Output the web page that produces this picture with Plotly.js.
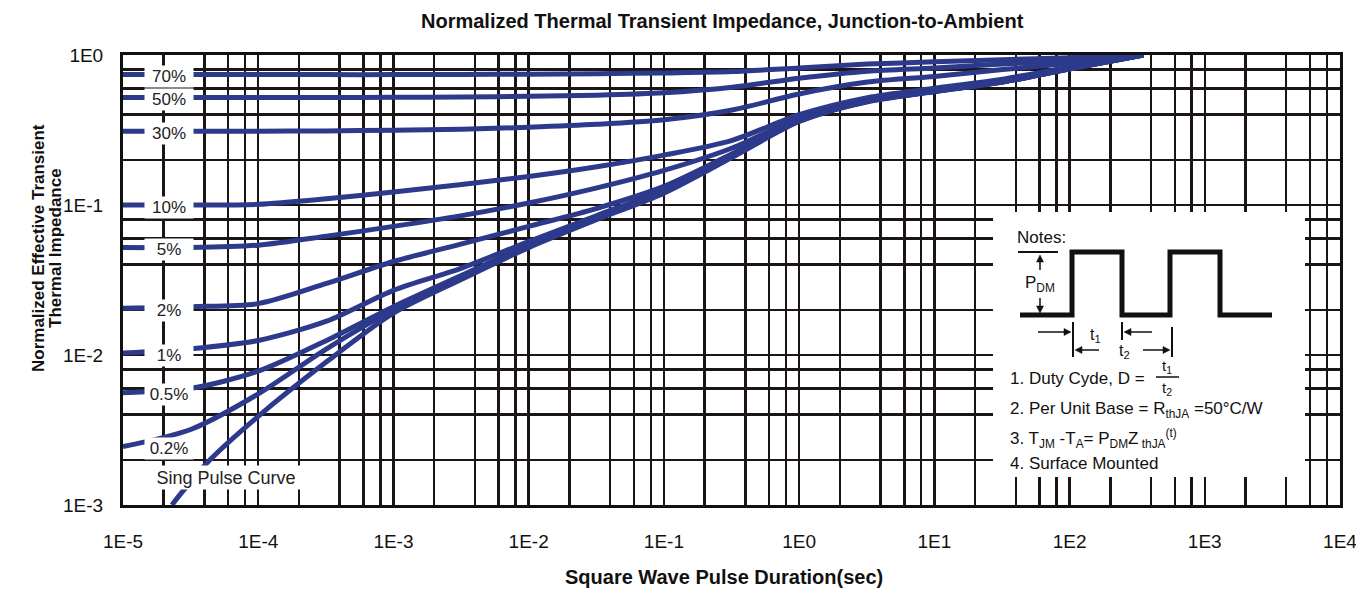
<!DOCTYPE html>
<html>
<head>
<meta charset="utf-8">
<script src="https://cdn.plot.ly/plotly-3.0.1.min.js"></script>
<style>html,body{margin:0;padding:0;background:#fff;}#chart{width:1356px;height:589px;}</style>
</head>
<body>
<div id="chart"></div>
<script>
// ---------------- data ----------------
const tStd = [1e-5, 3.2e-5, 1e-4, 3.2e-4, 1e-3, 3.2e-3, 1e-2, 3.2e-2, 0.1, 0.32, 1, 3.2, 10, 32, 100, 350];
const z70 = [0.74, 0.74, 0.74, 0.74, 0.74, 0.742, 0.745, 0.75, 0.76, 0.775, 0.82, 0.87, 0.90, 0.93, 0.96, 1.0];
const z50 = [0.52, 0.52, 0.52, 0.52, 0.522, 0.525, 0.53, 0.54, 0.56, 0.61, 0.70, 0.78, 0.82, 0.87, 0.92, 1.0];
const z30 = [0.31, 0.31, 0.31, 0.312, 0.315, 0.32, 0.33, 0.345, 0.37, 0.43, 0.55, 0.66, 0.72, 0.80, 0.88, 1.0];
const z10 = [0.100, 0.100, 0.101, 0.110, 0.122, 0.137, 0.155, 0.18, 0.215, 0.27, 0.40, 0.52, 0.60, 0.69, 0.83, 1.0];
const z5  = [0.052, 0.052, 0.054, 0.062, 0.072, 0.085, 0.103, 0.13, 0.17, 0.24, 0.38, 0.50, 0.58, 0.67, 0.815, 1.0];
const z2  = [0.0205, 0.021, 0.022, 0.030, 0.042, 0.055, 0.072, 0.095, 0.133, 0.22, 0.37, 0.495, 0.577, 0.665, 0.812, 1.0];
const z1  = [0.0103, 0.011, 0.0125, 0.0168, 0.027, 0.038, 0.057, 0.085, 0.127, 0.215, 0.366, 0.493, 0.574, 0.663, 0.81, 1.0];
const z05 = [0.0056, 0.006, 0.0078, 0.0125, 0.021, 0.034, 0.054, 0.082, 0.124, 0.212, 0.364, 0.491, 0.572, 0.662, 0.809, 1.0];
const z02 = [0.00245, 0.0032, 0.0055, 0.011, 0.020, 0.033, 0.053, 0.081, 0.122, 0.21, 0.362, 0.49, 0.571, 0.661, 0.808, 1.0];
const tSingle = [2.3e-5, 2.8e-5, 4.4e-5, 1e-4, 3.2e-4, 1e-3, 3.2e-3, 1e-2, 3.2e-2, 0.1, 0.32, 1, 3.2, 10, 32, 100, 350];
const zSingle = [0.001, 0.00125, 0.002, 0.0039, 0.009, 0.019, 0.032, 0.052, 0.08, 0.12, 0.208, 0.36, 0.488, 0.57, 0.66, 0.807, 1.0];

const curveLabels = ['70%', '50%', '30%', '10%', '5%', '2%', '1%', '0.5%', '0.2%'];
const curveValues = [z70, z50, z30, z10, z5, z2, z1, z05, z02];
const singleLabel = 'Sing Pulse Curve';

const xTickVals = [1e-5, 1e-4, 1e-3, 1e-2, 1e-1, 1e0, 1e1, 1e2, 1e3, 1e4];
const xTickText = ['1E-5', '1E-4', '1E-3', '1E-2', '1E-1', '1E0', '1E1', '1E2', '1E3', '1E4'];
const yTickVals = [1e-3, 1e-2, 1e-1, 1e0];
const yTickText = ['1E-3', '1E-2', '1E-1', '1E0'];

const titleText = 'Normalized Thermal Transient Impedance, Junction-to-Ambient';
const xTitle = 'Square Wave Pulse Duration(sec)';
const yTitle1 = 'Normalized Effective Transient';
const yTitle2 = 'Thermal Impedance';
const notes = [
  'Notes:',
  '1. Duty Cyde, D = ',
  '2. Per Unit Base = R<sub>thJA</sub> =50°C/W',
  '3. T<sub>JM</sub> -T<sub>A</sub>= P<sub>DM</sub>Z<sub> thJA</sub><sup>(t)</sup>',
  '4. Surface Mounted'
];

// ---------------- styling / layout helpers ----------------
const FONT = 'Liberation Sans, Arial, sans-serif';
const CURVE = '#2d3a8c';
const GRID = '#1b1515';
const INK = '#111111';
const L = 123, R = 1340, T = 55, B = 505;
const PX = x => (x - L) / (R - L);
const PY = y => (B - y) / (B - T);

const minorX = [];
for (let k = -5; k <= 3; k++) [2, 4, 6, 8].forEach(m => minorX.push(m * Math.pow(10, k)));
const minorY = [];
for (let k = -3; k <= -1; k++) [2, 4, 6, 8].forEach(m => minorY.push(m * Math.pow(10, k)));

const traces = curveValues.map((vals, i) => ({
  x: tStd, y: vals, type: 'scatter', mode: 'lines', name: curveLabels[i],
  line: {color: CURVE, width: 5, shape: 'spline', smoothing: 0.8}
}));
traces.push({
  x: tSingle, y: zSingle, type: 'scatter', mode: 'lines', name: singleLabel,
  line: {color: CURVE, width: 5, shape: 'spline', smoothing: 0.8}
});

// paper-anchored text helper
const txt = (x, y, text, size, opts) => Object.assign({
  xref: 'paper', yref: 'paper', x: PX(x), y: PY(y), text: text, showarrow: false,
  xanchor: 'center', yanchor: 'middle', font: {family: FONT, size: size, color: INK}
}, opts || {});

const annotations = [];
// curve labels (on the curves' starting level)
curveLabels.forEach((lab, i) => {
  annotations.push({
    xref: 'paper', yref: 'y', x: PX(169), y: Math.log10(curveValues[i][0]), yshift: -2,
    xanchor: 'center', yanchor: 'middle',
    text: lab, showarrow: false, bgcolor: '#ffffff', width: 46, height: 19,
    font: {family: FONT, size: 17, color: '#222'}
  });
});
annotations.push(txt(226, 477, singleLabel, 18, {bgcolor: '#ffffff', width: 154, height: 21, font: {family: FONT, size: 18, color: '#222'}}));
// titles
annotations.push(txt(722, 21, '<b>' + titleText + '</b>', 20));
annotations.push(txt(724, 577, '<b>' + xTitle + '</b>', 20));
annotations.push(txt(38, 248, '<b>' + yTitle1 + '</b>', 17, {textangle: -90}));
annotations.push(txt(55, 248, '<b>' + yTitle2 + '</b>', 17, {textangle: -90}));
// notes texts
annotations.push(txt(1015, 237, notes[0], 17, {xanchor: 'left'}));
annotations.push(txt(1008, 378, notes[1], 17, {xanchor: 'left'}));
annotations.push(txt(1008, 410, notes[2], 17, {xanchor: 'left'}));
annotations.push(txt(1008, 438, notes[3], 17, {xanchor: 'left'}));
annotations.push(txt(1008, 463, notes[4], 17, {xanchor: 'left'}));
// fraction t1/t2
annotations.push(txt(1167, 366, 't<sub>1</sub>', 15));
annotations.push(txt(1167, 388, 't<sub>2</sub>', 15));
// diagram labels
annotations.push(txt(1040, 284, 'P<sub>DM</sub>', 17));
annotations.push(txt(1095, 335, 't<sub>1</sub>', 16));
annotations.push(txt(1124, 352, 't<sub>2</sub>', 16));

const ln = (x0, y0, x1, y1, w) => ({type: 'line', xref: 'paper', yref: 'paper', x0: PX(x0), y0: PY(y0), x1: PX(x1), y1: PY(y1),
  line: {color: INK, width: w}, layer: 'above'});
const pathOf = pts => pts.map((p, i) => (i ? 'L' : 'M') + PX(p[0]).toFixed(5) + ',' + PY(p[1]).toFixed(5)).join(' ');
// arrow: shaft plus filled head; (hx,hy) head tip, (tx,ty) tail
const arrowShapes = (tx, ty, hx, hy) => {
  const dx = hx - tx, dy = hy - ty, len = Math.hypot(dx, dy), ux = dx / len, uy = dy / len;
  const bx = hx - ux * 7, by = hy - uy * 7;
  return [
    ln(tx, ty, bx, by, 1.5),
    {type: 'path', xref: 'paper', yref: 'paper', layer: 'above', fillcolor: INK, line: {color: INK, width: 0.5},
     path: pathOf([[hx, hy], [bx - uy * 3.5, by + ux * 3.5], [bx + uy * 3.5, by - ux * 3.5]]) + ' Z'}
  ];
};
const wave = [[1020,315],[1072,315],[1072,252],[1122,252],[1122,315],[1170,315],[1170,252],[1220,252],[1220,315],[1272,315]];
const shapes = [
  {type: 'rect', xref: 'paper', yref: 'paper', x0: PX(993), x1: PX(1305), y0: PY(477), y1: PY(212),
   fillcolor: '#ffffff', line: {width: 0}, layer: 'above'},
  {type: 'path', xref: 'paper', yref: 'paper', path: pathOf(wave), line: {color: INK, width: 5}, layer: 'above'},
  ln(1018, 252, 1058, 252, 2),
  ln(1073, 322, 1073, 357, 2),
  ln(1122, 322, 1122, 340, 2),
  ln(1172, 327, 1172, 357, 2),
  ln(1156, 377, 1179, 377, 1.5),
  ln(303, 466, 303, 488, 1)
].concat(
  arrowShapes(1040, 270, 1040, 255),
  arrowShapes(1040, 298, 1040, 313),
  arrowShapes(1038, 332, 1071, 332),
  arrowShapes(1152, 332, 1124, 332),
  arrowShapes(1099, 350, 1075, 350),
  arrowShapes(1143, 350, 1170, 350)
);

const layout = {
  width: 1356, height: 589,
  margin: {l: L, r: 1356 - R, t: T, b: 589 - B, pad: 0},
  paper_bgcolor: '#ffffff', plot_bgcolor: '#ffffff',
  showlegend: false,
  font: {family: FONT, color: INK},
  xaxis: {
    type: 'log', range: [-5, 4], tickmode: 'array', tickvals: xTickVals, ticktext: xTickText,
    ticks: 'outside', ticklen: 17, tickcolor: 'rgba(0,0,0,0)', tickfont: {family: FONT, size: 19, color: INK},
    ticklabeloverflow: 'allow',
    showgrid: true, gridcolor: GRID, gridwidth: 2.5,
    minor: {tickmode: 'array', tickvals: minorX, showgrid: true, gridcolor: GRID, gridwidth: 2.5, ticks: ''},
    showline: true, mirror: true, linecolor: INK, linewidth: 3, zeroline: false, fixedrange: true
  },
  yaxis: {
    type: 'log', range: [-3, 0], tickmode: 'array', tickvals: yTickVals, ticktext: yTickText,
    ticks: 'outside', ticklen: 13, tickcolor: 'rgba(0,0,0,0)', tickfont: {family: FONT, size: 19, color: INK},
    showgrid: true, gridcolor: GRID, gridwidth: 2.5,
    minor: {tickmode: 'array', tickvals: minorY, showgrid: true, gridcolor: GRID, gridwidth: 2.5, ticks: ''},
    showline: true, mirror: true, linecolor: INK, linewidth: 3, zeroline: false, fixedrange: true
  },
  annotations: annotations,
  shapes: shapes
};

Plotly.newPlot('chart', traces, layout, {displayModeBar: false, staticPlot: true});
</script>
</body>
</html>
